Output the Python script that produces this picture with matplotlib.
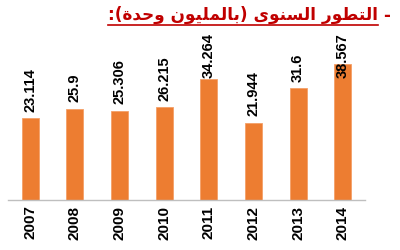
import matplotlib
matplotlib.use("Agg")
import matplotlib.pyplot as plt
from matplotlib.lines import Line2D

# Daten
jahre = ["2007", "2008", "2009", "2010", "2011", "2012", "2013", "2014"]
werte = [23.114, 25.9, 25.306, 26.215, 34.264, 21.944, 31.6, 38.567]
wert_labels = ["23.114", "25.9", "25.306", "26.215", "34.264", "21.944", "31.6", "38.567"]
titel = "التطور السنوى (بالمليون وحدة):"

BALKEN = "#ED7D31"
ROT = "#C00000"

# Arabische Formen: (isoliert, final, initial, medial) - None = verbindet nicht nach links
FORMEN = {
    "ا": ("\uFE8D", "\uFE8E", None, None),
    "ل": ("\uFEDD", "\uFEDE", "\uFEDF", "\uFEE0"),
    "ت": ("\uFE95", "\uFE96", "\uFE97", "\uFE98"),
    "ط": ("\uFEC1", "\uFEC2", "\uFEC3", "\uFEC4"),
    "و": ("\uFEED", "\uFEEE", None, None),
    "ر": ("\uFEAD", "\uFEAE", None, None),
    "س": ("\uFEB1", "\uFEB2", "\uFEB3", "\uFEB4"),
    "ن": ("\uFEE5", "\uFEE6", "\uFEE7", "\uFEE8"),
    "ى": ("\uFEEF", "\uFEF0", None, None),
    "ب": ("\uFE8F", "\uFE90", "\uFE91", "\uFE92"),
    "م": ("\uFEE1", "\uFEE2", "\uFEE3", "\uFEE4"),
    "ي": ("\uFEF1", "\uFEF2", "\uFEF3", "\uFEF4"),
    "ح": ("\uFEA1", "\uFEA2", "\uFEA3", "\uFEA4"),
    "د": ("\uFEA9", "\uFEAA", None, None),
    "ة": ("\uFE93", "\uFE94", None, None),
}


def forme_arabisch(text):
    out = []
    for i, ch in enumerate(text):
        if ch not in FORMEN:
            out.append(ch)
            continue
        vor = text[i - 1] if i > 0 else ""
        nach = text[i + 1] if i + 1 < len(text) else ""
        mit_vor = vor in FORMEN and FORMEN[vor][2] is not None
        mit_nach = nach in FORMEN and FORMEN[ch][2] is not None
        iso, fin, ini, med = FORMEN[ch]
        if mit_vor and mit_nach:
            out.append(med)
        elif mit_vor:
            out.append(fin)
        elif mit_nach:
            out.append(ini)
        else:
            out.append(iso)
    s = "".join(out)[::-1]
    return s.translate(str.maketrans("()", ")("))


fig = plt.figure(figsize=(4, 2.5), dpi=100)
ax = fig.add_axes([0.02, 0.2, 0.8925, 0.672])

x = range(len(jahre))
ax.bar(x, werte, width=0.38, color=BALKEN, edgecolor="#F4A068", linewidth=0.6)
ax.set_xlim(-0.5, len(jahre) - 0.5)
ax.set_ylim(0, 47.6)

ax.set_xticks(list(x))
ax.set_xticklabels(jahre, rotation=90, fontsize=11, fontweight="bold",
                   family="Liberation Sans")
ax.tick_params(axis="x", length=0, pad=4)
ax.set_yticks([])
for s in ["top", "left", "right"]:
    ax.spines[s].set_visible(False)
ax.spines["bottom"].set_color("#BFBFBF")
ax.spines["bottom"].set_linewidth(1.0)

# Werte-Beschriftungen
texte = []
for xi, v, lab in zip(x, werte, wert_labels):
    t = ax.annotate(lab, (xi, v), xytext=(0, 4.5), textcoords="offset points",
                    rotation=90, ha="center", va="bottom", fontsize=10.5,
                    fontweight="bold", family="Liberation Sans", color="black")
    texte.append(t)

fig.canvas.draw()
r = fig.canvas.get_renderer()
ax_top = ax.get_window_extent(r).y1
for t, xi in zip(texte, x):
    bb = t.get_window_extent(r)
    if bb.y1 > ax_top:
        t.xy = (xi, ax.get_ylim()[1])
        t.set_position((0, -1))
        t.set_va("top")

# Titel
tt = fig.text(0.945, 0.94, forme_arabisch(titel), ha="right", va="center",
              fontsize=12.2, fontweight="bold", color=ROT, family="DejaVu Sans")
fig.text(0.975, 0.935, "-", ha="right", va="center", fontsize=12,
         fontweight="bold", color=ROT, family="DejaVu Sans")
fig.canvas.draw()
bb = tt.get_window_extent(fig.canvas.get_renderer())
W, H = fig.bbox.width, fig.bbox.height
y_line = (bb.y0 - 1) / H
fig.add_artist(Line2D([bb.x0 / W, bb.x1 / W], [y_line, y_line],
                      color=ROT, linewidth=1.2, transform=fig.transFigure))

fig.savefig("out.png", dpi=100)
